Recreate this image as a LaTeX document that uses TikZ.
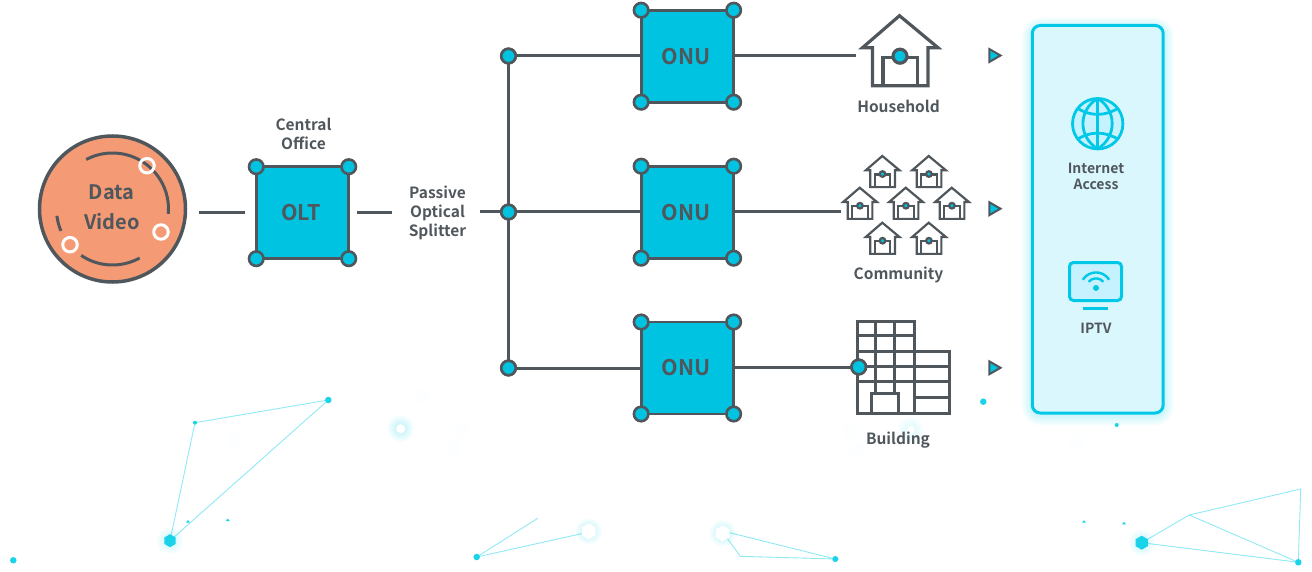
\documentclass[tikz,border=0pt]{standalone}
\usepackage{fontspec}
\setmainfont{Noto Sans CJK KR}[BoldFont={Noto Sans CJK KR Bold}]
\usetikzlibrary{shapes.geometric,calc}
\definecolor{ink}{HTML}{50575C}
\definecolor{cyanfill}{HTML}{00C2E1}
\definecolor{spark}{HTML}{1AD3E8}
\definecolor{sparkline}{HTML}{90E9F5}
\definecolor{panelfill}{HTML}{DAF7FE}
\definecolor{panelline}{HTML}{00C8E6}
\definecolor{iconfill}{HTML}{C6F2FF}
\definecolor{peach}{HTML}{F49B75}
\tikzset{
  conn/.style={draw=ink,line width=3pt},
  sqbox/.style={draw=ink,fill=cyanfill,line width=2.8pt,outer sep=0pt,minimum width=92.5pt,minimum height=92pt,text=ink,font=\fontsize{21.5}{24}\selectfont\bfseries},
  cdot/.style={circle,draw=ink,fill=cyanfill,line width=2.6pt,minimum size=14.5pt,inner sep=0pt,outer sep=0pt},
  wdot/.style={circle,draw=white,fill=none,line width=3pt,minimum size=14.5pt,inner sep=0pt},
  lab/.style={text=ink,align=center,font=\fontsize{15.5}{19}\selectfont\bfseries,inner sep=0pt},
  smalllab/.style={text=ink,align=center,font=\fontsize{14}{16}\selectfont\bfseries,inner sep=0pt},
  tri/.style={regular polygon,regular polygon sides=3,shape border rotate=-90,draw=ink,fill=cyanfill,line width=2pt,minimum size=15pt,inner sep=0pt},
  sline/.style={draw=sparkline,line width=.9pt},
  sdot/.style={circle,fill=spark,inner sep=0pt,minimum size=#1},
  hexa/.style={regular polygon,regular polygon sides=6,fill=#1,inner sep=0pt,minimum size=14pt},
}
\newcommand{\glow}[3]{% x y opacity
  \foreach \k in {1,...,7}{\fill[spark,opacity=#3] (#1,#2) circle ({\k*1.6pt+2pt});}}
\newcommand{\houseicon}[5]{% x, apex y, scale, line width, dot r
  \begin{scope}[shift={(#1,#2)},x=#3pt,y=-#3pt]
    \draw[draw=ink,line width=#4pt,line join=miter]
      (-37,32) -- (0,0) -- (38.5,32) -- (28.5,32) -- (28.5,70) -- (-27,70) -- (-27,32) -- cycle;
    \draw[draw=ink,line width=#4pt] (-16.5,70) -- (-16.5,41.5) -- (18,41.5) -- (18,70);
    \fill[cyanfill,draw=ink,line width=#4pt] (.5,40.5) circle (#5pt);
  \end{scope}}
\begin{document}
\begin{tikzpicture}[x=1pt,y=-1pt]
\useasboundingbox (0,0) rectangle (1312,572);
% background sparks
\draw[sline] (328.3,400) -- (195,422.7) -- (170,540.7) -- cycle;
\draw[sline] (537.7,518.3) -- (476.7,557) -- (586,532.7);
\draw[sline] (721.7,530.7) -- (835.3,559) -- (740.3,556.3) -- cycle;
\draw[sline] (1141.7,542.7) -- (1189.3,515) -- (1300.7,489) -- (1298.3,562.3) -- cycle;
\draw[sline] (1189.3,515) -- (1298.3,562.3);
\glow{170}{540.7}{.03}\node[hexa=spark,rotate=30,minimum size=13pt] at (170,540.7) {};
\glow{1141.7}{542.7}{.03}\node[hexa=spark,rotate=30,minimum size=14pt] at (1141.7,542.7) {};
\glow{588.7}{531.3}{.04}\node[hexa=white,rotate=30,minimum size=16pt] at (588.7,531.3) {};
\glow{722.7}{533.3}{.04}\node[hexa=white,rotate=30,minimum size=16pt] at (722.7,533.3) {};
\glow{400.7}{428.7}{.04}\fill[white] (400.7,428.7) circle (4.5);
\glow{910.7}{430}{.02}\fill[white] (910.7,430) circle (4);
\foreach \x/\y in {235/440,421.7/396.7,461.7/430,453/448,850/431.7,857/450,1076.7/441.7}{\fill[spark,opacity=.012] (\x,\y) circle (8pt);}
\foreach \x/\y/\r in {328.3/400/6.5pt,195/422.7/4pt,13.3/560.3/6.5pt,476.7/557/6.5pt,835.3/559/6pt,1298.3/562.3/6.5pt,983.3/401.7/6.5pt,1116.7/425/4pt}{
  \node[sdot=\r] at (\x,\y) {};}
\foreach \x/\y in {227.7/520,188/521.5,1084/521.7,1124/523.3}{\fill[spark] (\x-2,\y+1) -- (\x,\y-1.5) -- (\x+2,\y+1) -- cycle;}
% left chain
\node[circle,draw=ink,fill=peach,line width=3.5pt,minimum size=146pt,inner sep=0pt] (data) at (112.5,209) {};
\draw[ink,line width=3pt] plot[domain=-118:5,samples=40] ({112.5+56*cos(\x)},{209+56*sin(\x)});
\draw[ink,line width=3pt] plot[domain=61:124,samples=20] ({112.5+56*cos(\x)},{209+56*sin(\x)});
\draw[ink,line width=3pt] plot[domain=173:157,samples=10] ({112.5+56*cos(\x)},{209+56*sin(\x)});
\node[wdot] (w1) at (147,165.7) {};
\node[wdot] (w2) at (161,232) {};
\node[wdot] (w3) at (70,244.7) {};
\node[text=ink,font=\fontsize{20}{24}\selectfont\bfseries,inner sep=0pt] (ldata) at (111.5,192) {Data};
\node[text=ink,font=\fontsize{20}{24}\selectfont\bfseries,inner sep=0pt] (lvideo) at (112,222) {Video};
\coordinate (a1) at (199,212.5);
\coordinate (a2) at (245,212.5);
\draw[conn] (a1) -- (a2);
\node[sqbox] (olt) at (302.5,212.7) {\hspace{-3pt}\raisebox{-1pt}{OLT}};
\foreach \c/\a in {a/north west,b/north east,c/south west,d/south east}{\node[cdot] (olt\c) at (olt.\a) {};}
\node[lab] (loff) at (303.5,133.5) {Central\\Office};
\coordinate (a3) at (357,212.5);
\coordinate (a4) at (392,212.5);
\draw[conn] (a3) -- (a4);
\node[lab] (lsplit) at (437.5,212.5) {Passive\\Optical\\Splitter};
\coordinate (a5) at (480,212);
% splitter
\node[cdot] (s1) at (508.5,56) {};
\node[cdot] (s2) at (508.5,212) {};
\node[cdot] (s3) at (508.5,368) {};
\draw[conn] (a5) -- (s2);
\draw[conn] (s1) -- (s3);
\node[cdot] at (s1) {}; \node[cdot] at (s2) {}; \node[cdot] at (s3) {};
% ONUs
\foreach \n/\y in {1/56.2,2/212.2,3/368}{
  \node[sqbox] (onu\n) at (687.4,\y) {\hspace{-3pt}\raisebox{-.5pt}{ONU}};
  \foreach \c/\a in {a/north west,b/north east,c/south west,d/south east}{\node[cdot] (onu\n\c) at (onu\n.\a) {};}
}
\coordinate (e1) at (856,56);
\coordinate (e2) at (841,212);
\draw[conn] (s1) -- (s1-|onu1.west);
\draw[conn] (s2) -- (s2-|onu2.west);
\draw[conn] (s3) -- (s3-|onu3.west);
\draw[conn] (onu1.east|-e1) -- (e1);
\draw[conn] (onu2.east|-e2) -- (e2);
% household
\houseicon{899.5}{15.7}{1}{3.2}{7}
\node[lab] (lhouse) at (898.5,106) {Household};
% community
\foreach \x/\y in {882.3/156,928.7/156,859.7/187.7,905.7/187.7,951.7/187.7,882.3/222.7,928.7/222.7}{
  \houseicon{\x}{\y}{.445}{2.2}{2.8}
}
\node[lab] (lcomm) at (898.5,274.5) {Community};
% building
\draw[ink,line width=3pt] (857.3,321.3) -- (914,321.3) -- (914,351.7) -- (949,351.7) -- (949,413.3) -- (857.3,413.3) -- cycle;
\draw[ink,line width=3pt] (857.3,335) -- (914,335);
\draw[ink,line width=3pt] (857.3,351.7) -- (914,351.7) -- (914,413.3);
\draw[ink,line width=3pt] (857.3,366.7) -- (949,366.7);
\draw[ink,line width=3pt] (857.3,381.7) -- (949,381.7);
\draw[ink,line width=3pt] (914,397.3) -- (949,397.3);
\draw[ink,line width=3pt] (875.7,321.3) -- (875.7,393.3);
\draw[ink,line width=3pt] (894.3,321.3) -- (894.3,393.3);
\draw[ink,line width=3pt] (871.7,413.3) -- (871.7,393.3) -- (898.3,393.3) -- (898.3,413.3);
\node[cdot] (bdot) at (858.7,367) {};
\draw[conn] (onu3.east|-bdot) -- (bdot);
\node[cdot] at (bdot) {};
\node[lab] (lbuild) at (898,440.5) {Building};
% triangles
\node[tri] (t1) at (993,55.5) {};
\node[tri] (t2) at (993,208.7) {};
\node[tri] (t3) at (993,367.8) {};
% panel
\foreach \k in {1,...,7}{
  \draw[spark,opacity=.035,line width={\k*3pt},rounded corners=9pt] (1032.3,28) rectangle (1163.2,415);
}
\draw[panelline,fill=panelfill,line width=3pt,rounded corners=8pt] (1032.3,25.5) rectangle (1163.2,413);
% globe
\begin{scope}[panelline,line width=2.8pt]
  \draw[fill=iconfill] (1097.7,123.7) circle (25.2);
  \draw (1097.7,98.5) -- (1097.7,148.9);
  \draw (1097.7,98.5) .. controls (1078,110) and (1078,137) .. (1097.7,148.9);
  \draw (1097.7,98.5) .. controls (1117,110) and (1117,137) .. (1097.7,148.9);
  \draw (1077,108) .. controls (1090,116.5) and (1105,116.5) .. (1118.5,108);
  \draw (1077,139.5) .. controls (1090,131) and (1105,131) .. (1118.5,139.5);
\end{scope}
\node[smalllab] (lint) at (1096,176) {Internet\\Access};
% tv
\begin{scope}[panelline,line width=3pt]
  \draw[fill=iconfill,rounded corners=4pt] (1069.5,262.5) rectangle (1121.5,300.5);
  \draw[line width=3pt] (1083,308.3) -- (1108,308.3);
  \fill (1096,288) circle (3);
  \draw[line width=2.4pt] plot[domain=-140:-40,samples=20] ({1096+9.5*cos(\x)},{288+9.5*sin(\x)});
  \draw[line width=2.4pt] plot[domain=-148:-32,samples=20] ({1096+15.5*cos(\x)},{288+15.5*sin(\x)});
\end{scope}
\node[smalllab] (liptv) at (1096,328) {IPTV};
\end{tikzpicture}
\end{document}
